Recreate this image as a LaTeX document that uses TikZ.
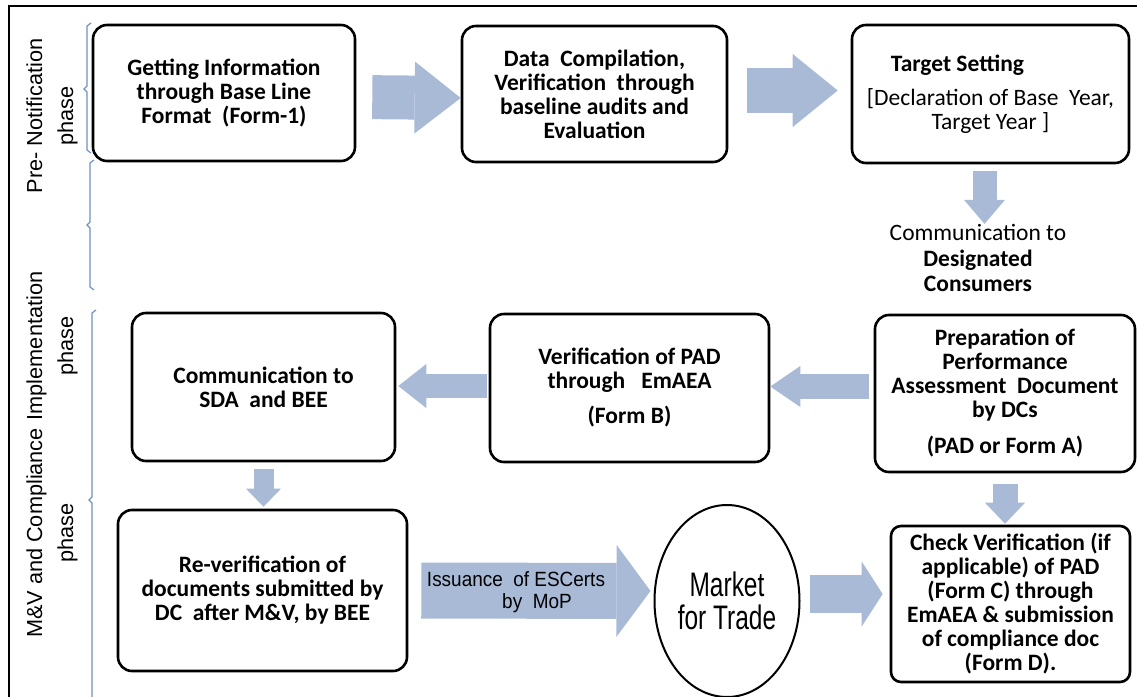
\documentclass[tikz,border=0pt]{standalone}
\usepackage{fontspec}
\setmainfont{Carlito}
\newfontfamily\arialfont{Liberation Sans}
\newfontfamily\narrowfont[FakeStretch=0.72]{Liberation Sans}
\newfontfamily\issuefont[FakeStretch=0.92]{Liberation Sans}
\usetikzlibrary{arrows.meta,shapes.geometric}
\definecolor{arrowblue}{RGB}{168,186,214}
\definecolor{braceblue}{RGB}{110,145,190}

\begin{document}
\begin{tikzpicture}[x=0.5pt, y=-0.5pt,
    box/.style={draw, line width=1.3pt, rounded corners=7pt, align=center, inner sep=2pt,
        font=\bfseries\fontsize{11.75}{12}\selectfont},
    barrow/.style n args={3}{draw=arrowblue, line width=#1pt,
        -{Triangle[length=#3pt, width=#2pt, line width=0pt]}},
    phase/.style={rotate=90, align=center, font=\arialfont\fontsize{10.85}{15.5}\selectfont},
    brace/.style={draw=braceblue, line width=0.6pt}]
    \useasboundingbox (0,0) rectangle (1137,697);
    \draw[line width=1pt] (9,697) -- (9,6) -- (1137,6);
    \node[phase] (P1) at (52,116) {Pre- Notification\\phase};
    \node[phase] (P2) at (52,346) {Implementation\\phase};
    \node[phase] (P3) at (52,533) {M\&V and Compliance\\phase};
    \draw[brace] (91,23) -- (87,26) -- (87,86) -- (84,89) -- (87,92) -- (87,150) -- (91,153);
    \draw[brace] (94,160) -- (90,163) -- (90,222) -- (87,225) -- (90,228) -- (90,287) -- (94,290);
    \draw[brace] (96,310) -- (92,313) -- (92,497) -- (89,500) -- (92,503) -- (92,697);
    \node[box, minimum width=131pt, minimum height=68pt] (A) at (224,93)
        {Getting Information\\through Base Line\\Format\ \ (Form-1)};
    \node[box, minimum width=132.5pt, minimum height=68pt] (B) at (594.5,94)
        {Data\ \ Compilation,\\Verification\ \ through\\baseline audits and\\Evaluation};
    \node[box, minimum width=138.5pt, minimum height=69pt] (C) at (990.5,94)
        {Target Setting\hspace*{33pt}\\[5pt]\mdseries [Declaration of Base\ \ Year,\\\mdseries Target Year ]};
    \node[align=center, inner sep=0pt, font=\fontsize{11.75}{12.75}\selectfont] (D) at (978,258)
        {Communication to\\\textbf{Designated}\\\textbf{Consumers}};
    \node[box, minimum width=131.5pt, minimum height=74pt] (E) at (263.5,387)
        {Communication to\\SDA\ \ and BEE};
    \node[box, minimum width=139.5pt, minimum height=74pt] (F) at (629.5,388)
        {Verification of PAD\\through\ \ \ EmAEA\\[5.5pt](Form B)};
    \node[box, minimum width=130pt, minimum height=78.5pt] (G) at (1005,393.5)
        {Preparation of\\Performance\\Assessment\ \ Document\\by DCs\\[6pt](PAD or Form A)};
    \node[box, minimum width=144.5pt, minimum height=80.5pt] (H) at (262.5,590.5)
        {Re-verification of\\documents submitted by\\DC\ \ after M\&V, by BEE};
    \node[draw, ellipse, line width=1pt, inner sep=0pt, minimum width=72.5pt, minimum height=96pt,
        align=center, font=\narrowfont\fontsize{17}{16.5}\selectfont] (M) at (727,601)
        {Market\\for Trade};
    \node[box, rounded corners=5pt, minimum width=119.5pt, minimum height=78pt] (K) at (1010.5,604)
        {Check Verification (if\\applicable) of PAD\\(Form C) through\\EmAEA \& submission\\of compliance doc\\(Form D).};
    %FRECCE
    \draw[barrow={22}{36}{23}, shorten <=8pt] ([yshift=-2pt]A.east) -- ([yshift=-2pt]B.west);
    \draw[barrow={22.5}{36.5}{22.5}, shorten <=9.5pt, shorten >=6.5pt] ([yshift=1.75pt]B.east) -- ([yshift=1.75pt]C.west);
    \draw[barrow={12}{20.5}{12}, shorten <=3.5pt] ([xshift=-3pt]C.south) -- ([xshift=-3pt]C.south |- D.north);
    \draw[barrow={12.5}{20.5}{15}, shorten <=2.5pt] ([yshift=3.5pt]G.west) -- ([yshift=0.75pt]F.east);
    \draw[barrow={12}{22}{14}, shorten <=1pt, shorten >=1pt] ([yshift=1pt]F.west) -- ([yshift=0.5pt]E.east);
    \draw[barrow={10}{17.5}{9}, shorten <=3.5pt, shorten >=1pt] (E.south) -- (E.south |- H.north);
    \draw[barrow={28}{46}{17}, shorten <=6.5pt, shorten >=1.5pt] (H.east) -- ([yshift=5pt]M.west);
    \draw[barrow={19}{32.5}{10.5}, shorten <=4.5pt, shorten >=3.5pt] ([yshift=3.5pt]M.east) -- ([yshift=5pt]K.west);
    \draw[barrow={12.5}{20}{10.5}, shorten <=5.5pt, shorten >=0.5pt] (G.south) -- (G.south |- K.north);
    \node[align=center, inner sep=0pt, font=\issuefont\fontsize{10.3}{10.8}\selectfont] (L) at (516,592)
        {Issuance\ \ of ESCerts\\\hspace*{21pt}by\ \ MoP};
\end{tikzpicture}
\end{document}
